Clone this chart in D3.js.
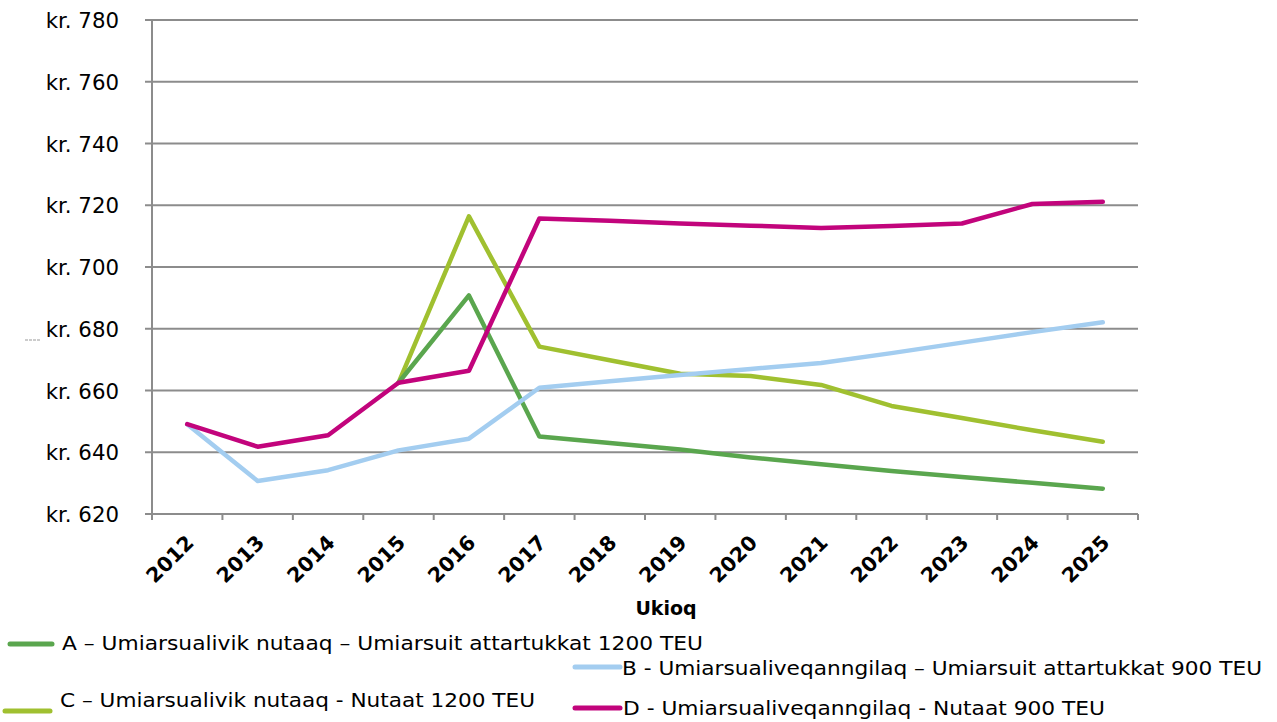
<!DOCTYPE html>
<html><head><meta charset="utf-8">
<script src="https://cdn.jsdelivr.net/npm/d3@7"></script>
<style>body{margin:0;background:#fff;} svg{display:block;}</style>
</head><body>
<svg id="c" width="1277" height="722"></svg>
<script>
const years = ["2012","2013","2014","2015","2016","2017","2018","2019","2020","2021","2022","2023","2024","2025"];
const seriesA = [null,null,null,662.5,690.8,645.1,643.0,640.9,638.3,636.1,633.9,632.0,630.1,628.2];
const seriesB = [649.1,630.7,634.2,640.6,644.4,660.9,663.0,665.0,667.0,668.9,672.1,675.5,678.9,682.1];
const seriesC = [null,null,null,662.5,716.4,674.2,669.8,665.4,664.7,661.8,655.0,651.1,647.1,643.4];
const seriesD = [649.1,641.8,645.5,662.5,666.4,715.7,715.0,714.1,713.4,712.6,713.3,714.1,720.4,721.1];
const yTicks = [620,640,660,680,700,720,740,760,780];
const seriesNames = [
  "A – Umiarsualivik nutaaq – Umiarsuit attartukkat 1200 TEU",
  "B - Umiarsualiveqanngilaq – Umiarsuit attartukkat 900 TEU",
  "C – Umiarsualivik nutaaq - Nutaat 1200 TEU",
  "D - Umiarsualiveqanngilaq - Nutaat 900 TEU"
];
const colors = ["#5aa64e","#a3cdf0","#a0c030","#c2047c"];
const xTitle = "Ukioq";

const svg = d3.select("#c");
const L=152, R=1138, T=20, B=514;
const x = d3.scaleBand().domain(years).range([L,R]).padding(0);
const y = d3.scaleLinear().domain([620,780]).range([B,T]);
const grid="#8c8c8c";
const font="DejaVu Sans, Verdana, sans-serif";

// gridlines
svg.append("g").selectAll("line").data(yTicks).join("line")
  .attr("x1",L-7).attr("x2",R).attr("y1",d=>y(d)).attr("y2",d=>y(d))
  .attr("stroke",grid).attr("stroke-width",2);
// y axis line
svg.append("line").attr("x1",L).attr("x2",L).attr("y1",y(780)).attr("y2",B+6).attr("stroke",grid).attr("stroke-width",2);
// x ticks at band boundaries
const bounds = years.map(d=>x(d)).concat([R]);
svg.append("g").selectAll("line").data(bounds).join("line")
  .attr("x1",d=>d).attr("x2",d=>d).attr("y1",B).attr("y2",B+6)
  .attr("stroke",grid).attr("stroke-width",2);

// y labels
const yAxis = d3.axisLeft(y).tickValues(yTicks).tickSize(0).tickPadding(0).tickFormat(d=>"kr. "+d);
const ga = svg.append("g").attr("transform",`translate(${L-33},0)`).call(yAxis);
ga.select(".domain").remove();
ga.selectAll("text").attr("font-family",font).attr("font-size",21.3).attr("fill","#000").attr("dy","0.36em");

// x labels
svg.append("g").selectAll("text").data(years).join("text")
  .attr("transform",d=>`translate(${x(d)+x.bandwidth()/2+8},${B+30}) rotate(-45)`)
  .attr("text-anchor","end").attr("font-family",font).attr("font-weight","bold")
  .attr("font-size",20.5).attr("fill","#000").text(d=>d);
svg.append("text").attr("x",666).attr("y",615).attr("text-anchor","middle")
  .attr("font-family",font).attr("font-weight","bold").attr("font-size",19).text(xTitle);

// lines
const all=[seriesA,seriesB,seriesC,seriesD];
const line=d3.line().defined(d=>d!=null).x((d,i)=>x(years[i])+x.bandwidth()/2).y(d=>y(d));
const order=[2,0,1,3];
order.forEach(k=>{
  svg.append("path").datum(all[k]).attr("d",line).attr("fill","none")
    .attr("stroke",colors[k]).attr("stroke-width",4.5).attr("stroke-linejoin","round").attr("stroke-linecap","round");
});

// small artifact near y label
svg.append("line").attr("x1",25).attr("x2",41).attr("y1",340).attr("y2",340)
  .attr("stroke","#999").attr("stroke-width",1).attr("stroke-dasharray","3,1");

// legend
const leg=[
  {k:0,lx1:10,lx2:52,ly:644,tx:62,ty:643,w:641},
  {k:1,lx1:575,lx2:620,ly:667,tx:622,ty:668,w:640},
  {k:2,lx1:5,lx2:50,ly:711,tx:60,ty:700,w:475},
  {k:3,lx1:575,lx2:620,ly:708,tx:623,ty:708,w:482}
];
const lg=svg.append("g");
leg.forEach(o=>{
  lg.append("line").attr("x1",o.lx1).attr("x2",o.lx2).attr("y1",o.ly).attr("y2",o.ly)
    .attr("stroke",colors[o.k]).attr("stroke-width",5).attr("stroke-linecap","round");
  lg.append("text").attr("x",o.tx).attr("y",o.ty).attr("dy","0.36em")
    .attr("font-family","DejaVu Sans Condensed, DejaVu Sans, sans-serif").attr("font-size",20)
    .attr("textLength",o.w).attr("lengthAdjust","spacingAndGlyphs")
    .attr("fill","#000").text(seriesNames[o.k]);
});
</script>
</body></html>
